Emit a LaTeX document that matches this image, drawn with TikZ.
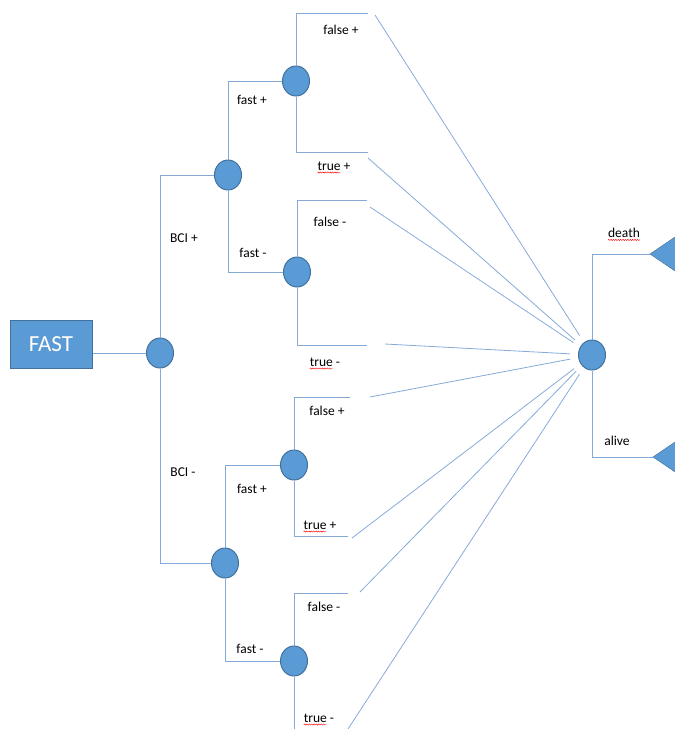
\documentclass[tikz,border=0pt]{standalone}
\usepackage{fontspec}
\setmainfont{Carlito}
\usepackage{tkz-euclide}
\usetikzlibrary{shapes.geometric,decorations.pathmorphing}

\definecolor{nodeblue}{HTML}{5B9BD5}
\definecolor{nodeedge}{HTML}{41719C}
\definecolor{lineblue}{HTML}{86AAD8}

\tikzset{
	chance/.style={ellipse,fill=nodeblue,draw=nodeedge,line width=1pt,minimum width=27pt,minimum height=30pt,inner sep=0pt},
	lbl/.style={font=\fontsize{13.5}{15}\selectfont,inner sep=0pt},
	tree/.style={-,color=lineblue,line width=0.8pt},
	squig/.style={red,line width=0.4pt,decorate,decoration={snake,amplitude=0.6pt,segment length=2.4pt}},
}

\begin{document}
\begin{tikzpicture}[x=1pt,y=-1pt]
	%\draw[help lines] (0,0) grid[step=50] (675,729);
	\useasboundingbox (0,0) rectangle (675,729);
	\clip (0,0) rectangle (675,729);

	\node[draw=nodeedge,fill=nodeblue,text=white,line width=1pt,minimum width=82pt,minimum height=48pt,font=\fontsize{23}{25}\selectfont] (fast) at (51,344) {FAST};

	\node[chance] (c0) at (160,353) {};
	\node[chance] (c1) at (228,175) {};
	\node[chance] (c2) at (225,563) {};
	\node[chance] (c11) at (296,81) {};
	\node[chance] (c12) at (297,272) {};
	\node[chance] (c21) at (294,465) {};
	\node[chance] (c22) at (294,661) {};
	\node[chance] (hub) at (592,355) {};

	% ends of the branches
	\tkzDefPoint(368,13){b1}
	\tkzDefPoint(368,152){b2}
	\tkzDefPoint(367,200){b3}
	\tkzDefPoint(367,345){b4}
	\tkzDefPoint(350,397){b5}
	\tkzDefPoint(348,536){b6}
	\tkzDefPoint(348,593){b7}
	\tkzDefPoint(294,740){b8}

	% starts of the lines to the hub
	\tkzDefPoint(375,15){s1}
	\tkzDefPoint(368,158){s2}
	\tkzDefPoint(370,207){s3}
	\tkzDefPoint(385,344){s4}
	\tkzDefPoint(370,397){s5}
	\tkzDefPoint(352,538){s6}
	\tkzDefPoint(360,592){s7}
	\tkzDefPoint(348,729){s8}

	% outcomes
	\tkzDefPoint(650,254){d0}
	\tkzDefPoint(700,220){d1}
	\tkzDefPoint(700,288){d2}
	\tkzDefPoint(653,457){a0}
	\tkzDefPoint(703,423){a1}
	\tkzDefPoint(703,491){a2}
	\fill[nodeblue,draw=nodeedge] (d0) -- (d1) -- (d2) -- cycle;
	\fill[nodeblue,draw=nodeedge] (a0) -- (a1) -- (a2) -- cycle;

	\draw[tree] (fast.east |- c0) -- (c0);
	\draw[tree] (c0) |- (c1);
	\draw[tree] (c0) |- (c2);
	\draw[tree] (c1) |- (c11);
	\draw[tree] (c1) |- (c12);
	\draw[tree] (c2) |- (c21);
	\draw[tree] (c2) |- (c22);

	\draw[tree] (c11) |- (b1);
	\draw[tree] (c11) |- (b2);
	\draw[tree] (c12) |- (b3);
	\draw[tree] (c12) |- (b4);
	\draw[tree] (c21) |- (b5);
	\draw[tree] (c21) |- (b6);
	\draw[tree] (c22) |- (b7);
	\draw[tree] (c22) -- (b8);

	\path[tree,shorten >=8pt] (s1) edge (hub);
	\path[tree,shorten >=8pt] (s2) edge (hub);
	\path[tree,shorten >=8pt] (s3) edge (hub);
	\path[tree,shorten >=8pt] (s4) edge (hub);
	\path[tree,shorten >=8pt] (s5) edge (hub);
	\path[tree,shorten >=8pt] (s6) edge (hub);
	\path[tree,shorten >=8pt] (s7) edge (hub);
	\path[tree,shorten >=8pt] (s8) edge (hub);

	\draw[tree] (hub) |- (d0);
	\draw[tree] (hub) |- (a0);

	\node[lbl] (bcip) at (184,238) {BCI +};
	\node[lbl] (bcim) at (183,472) {BCI -};
	\node[lbl] (fastp1) at (252,100) {fast +};
	\node[lbl] (fastm1) at (253,253) {fast -};
	\node[lbl] (fastp2) at (252,489) {fast +};
	\node[lbl] (fastm2) at (250,649) {fast -};
	\node[lbl] (falsep1) at (341,30) {false +};
	\node[lbl] (truep1) at (334,166) {true +};
	\node[lbl] (falsem1) at (330,222) {false -};
	\node[lbl] (truem1) at (325,362) {true -};
	\node[lbl] (falsep2) at (327,411) {false +};
	\node[lbl] (truep2) at (320,525) {true +};
	\node[lbl] (falsem2) at (324,607) {false -};
	\node[lbl] (truem2) at (319,718) {true -};
	\node[lbl] (death) at (624,233) {death};
	\node[lbl] (alive) at (617,441) {alive};

	% spelling marks
	\draw[squig] ([yshift=-2pt]truep1.south west) -- ++(23,0);
	\draw[squig] ([yshift=-2pt]truem1.south west) -- ++(23,0);
	\draw[squig] ([yshift=-2pt]truep2.south west) -- ++(23,0);
	\draw[squig] ([yshift=-2pt]truem2.south west) -- ++(23,0);
	\draw[squig] ([yshift=-2pt]death.south west) -- ([yshift=-2pt]death.south east);
\end{tikzpicture}
\end{document}
